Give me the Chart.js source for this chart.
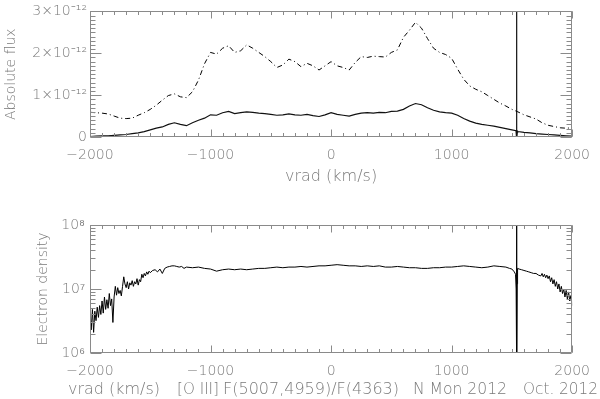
<!DOCTYPE html>
<html><head><meta charset="utf-8">
<script src="https://cdn.jsdelivr.net/npm/chart.js@4"></script>
<style>
html,body{margin:0;padding:0;background:#fff;overflow:hidden}
#wrap{position:relative;width:600px;height:399px;background:#fff}
canvas{position:absolute;left:0}
#c1{top:0;width:600px;height:200px}
#c2{top:200px;width:600px;height:199px}
</style></head>
<body><div id="wrap"><canvas id="c1" width="600" height="200"></canvas><canvas id="c2" width="600" height="199"></canvas></div>
<script>
// ---------- DATA ----------
const xTickValues = [-2000, -1000, 0, 1000, 2000];
const xTickLabels = ['\u22122000', '\u22121000', '0', '1000', '2000'];

// top panel: flux in units of 1e-12
const fluxTickValues = [0, 1, 2, 3];
const fluxTickLabels = ['0', '1\u00d710\u207b\u00b9\u00b2', '2\u00d710\u207b\u00b9\u00b2', '3\u00d710\u207b\u00b9\u00b2'];

const velTop = [-2000,-1950,-1900,-1850,-1800,-1750,-1700,-1650,-1600,-1550,-1500,-1450,-1400,-1350,-1300,-1250,-1200,-1150,-1100,-1050,
 -1000,-950,-900,-850,-800,-750,-700,-650,-600,-550,-500,-450,-400,-350,-300,-250,-200,-150,-100,-50,
 0,50,100,150,200,250,300,350,400,450,500,550,600,650,700,750,800,850,900,950,
 1000,1050,1100,1150,1200,1250,1300,1350,1400,1450,1500,1550,1600,1650,1700,1750,1800,1850,1900,1950,2000];
const fluxTotal = [0.59,0.58,0.57,0.55,0.50,0.45,0.44,0.45,0.52,0.58,0.66,0.76,0.88,0.99,1.03,0.96,0.94,1.08,1.36,1.75,
 2.02,1.98,2.12,2.18,2.02,2.06,2.20,2.12,2.02,1.92,1.80,1.66,1.72,1.86,1.80,1.68,1.76,1.70,1.60,1.70,
 1.80,1.70,1.66,1.60,1.78,1.92,1.90,1.93,1.92,1.91,2.02,2.08,2.38,2.55,2.74,2.60,2.35,2.12,2.02,1.97,
 1.88,1.62,1.38,1.22,1.14,1.08,0.99,0.90,0.81,0.74,0.66,0.60,0.53,0.48,0.43,0.34,0.28,0.25,0.22,0.21,0.22];

const velCore = [-2000,-1950,-1900,-1850,-1800,-1750,-1700,-1650,-1600,-1550,-1500,-1450,-1400,-1350,-1300,-1250,-1200,-1150,-1100,-1050,
 -1000,-950,-900,-850,-800,-750,-700,-650,-600,-550,-500,-450,-400,-350,-300,-250,-200,-150,-100,-50,
 0,50,100,150,200,250,300,350,400,450,500,550,600,650,700,750,800,850,900,950,
 1000,1050,1100,1150,1200,1250,1300,1350,1400,1450,1500,1534,1538,1541,1546,1550,1600,1650,1700,1750,1800,1850,1900,1950,2000];
const fluxCore = [0.01,0.02,0.03,0.03,0.04,0.05,0.06,0.08,0.10,0.13,0.17,0.21,0.24,0.30,0.34,0.30,0.27,0.34,0.40,0.45,
 0.53,0.52,0.58,0.61,0.56,0.58,0.60,0.59,0.57,0.56,0.54,0.52,0.53,0.55,0.53,0.52,0.54,0.51,0.49,0.53,
 0.58,0.54,0.52,0.50,0.54,0.57,0.58,0.57,0.59,0.58,0.61,0.62,0.66,0.74,0.80,0.77,0.70,0.64,0.60,0.58,
 0.57,0.52,0.44,0.38,0.33,0.30,0.28,0.26,0.23,0.20,0.17,0.15,3.5,-0.05,0.14,0.13,0.11,0.10,0.08,0.07,0.06,0.05,0.04,0.03,0.02];

// bottom panel: electron density
const densTickValues = [1e6, 1e7, 1e8];
const densTickLabels = ['10\u2076', '10\u2077', '10\u2078'];
const bottomTitleParts = ['vrad (km/s)', '[O III]', 'F(5007,4959)/F(4363)', 'N Mon 2012', 'Oct. 2012'];

const velDens = [-2000,-1990,-1980,-1970,-1960,-1950,-1940,-1930,-1920,-1910,-1900,-1890,-1880,-1870,-1860,-1850,-1840,-1830,-1820,-1810,
 -1800,-1790,-1780,-1770,-1760,-1750,-1740,-1730,-1720,-1710,-1700,-1690,-1680,-1670,-1660,-1650,-1640,-1630,-1620,-1610,
 -1600,-1590,-1580,-1570,-1560,-1550,-1540,-1530,-1520,-1510,-1500,
 -1480,-1460,-1440,-1420,-1400,-1380,-1360,-1340,-1320,-1300,-1280,-1260,-1240,-1220,-1200,
 -1150,-1100,-1050,-1000,-950,-900,-850,-800,-750,-700,-650,-600,-550,-500,-450,-400,-350,-300,-250,-200,-150,-100,-50,
 0,50,100,150,200,250,300,350,400,450,500,550,600,650,700,750,800,850,900,950,1000,1050,1100,1150,1200,1250,1300,1350,1400,1450,
 1480,1500,1520,1530,1535,1538,1541,1544,1547,1560,1580,1600,1620,1640,1660,1680,1700,1720,1740,
 1750,1760,1770,1780,1790,1800,1810,1820,1830,1840,1850,1860,1870,1880,1890,1900,1910,1920,1930,1940,1950,1960,1970,1980,1990,2000];
const density = [3.5e6,2.3e6,4.8e6,2.1e6,4.5e6,3.2e6,5.2e6,3.6e6,5.5e6,4.0e6,6.5e6,4.2e6,7.5e6,4.8e6,6.8e6,5.0e6,8.5e6,5.5e6,7.0e6,3.0e6,
 7.5e6,1.1e7,8.0e6,1.05e7,8.5e6,9.5e6,7.8e6,1.1e7,1.55e7,1.2e7,1.05e7,1.3e7,1.0e7,1.25e7,1.15e7,1.35e7,1.1e7,1.3e7,1.2e7,1.45e7,
 1.15e7,1.4e7,1.3e7,1.7e7,1.5e7,1.75e7,1.6e7,1.85e7,1.7e7,1.9e7,1.8e7,
 1.95e7,2.0e7,1.85e7,2.05e7,1.75e7,2.1e7,2.2e7,2.25e7,2.3e7,2.3e7,2.25e7,2.2e7,2.25e7,2.1e7,2.2e7,
 2.15e7,2.2e7,2.1e7,2.05e7,1.9e7,2.0e7,2.05e7,2.0e7,2.05e7,2.0e7,2.05e7,2.1e7,2.1e7,2.15e7,2.2e7,2.15e7,2.2e7,2.2e7,2.25e7,2.2e7,2.25e7,2.3e7,2.3e7,
 2.35e7,2.4e7,2.35e7,2.3e7,2.3e7,2.25e7,2.3e7,2.25e7,2.3e7,2.2e7,2.2e7,2.25e7,2.2e7,2.15e7,2.15e7,2.1e7,2.1e7,2.15e7,2.15e7,2.2e7,2.2e7,2.25e7,2.3e7,2.25e7,2.2e7,2.15e7,2.2e7,2.3e7,2.25e7,2.2e7,
 2.1e7,2.05e7,1.85e7,1.7e7,1.0e7,2e8,5e5,1.2e7,2.1e7,2.05e7,2.0e7,1.95e7,1.9e7,1.85e7,1.8e7,1.75e7,1.75e7,1.65e7,1.6e7,
 1.75e7,1.55e7,1.7e7,1.5e7,1.65e7,1.45e7,1.6e7,1.3e7,1.5e7,1.2e7,1.4e7,1.1e7,1.3e7,1.0e7,1.2e7,9.0e6,1.1e7,8.5e6,1.0e7,7.5e6,9.5e6,7.0e6,9.0e6,6.5e6,8.0e6,5.5e6];

// ---------- STYLE ----------
const TEXT = '#7a7a7a';
const AXIS = '#8a8a8a';
const FAM = "'DejaVu Sans', sans-serif";
const tickFont = {family: FAM, size: 14, weight: 200};
const titleFont = {family: FAM, size: 16, weight: 200};
// layout of the bottom title pieces: [left x, max width] in px
const bottomTitleLayout = [[68, 92], [177, 42], [223, 178], [413, 94], [523, 75]];

function pts(xs, ys){ return xs.map((v,i)=>({x:v, y:ys[i]})); }

function boxPlugin(cfg){
  return {
    id: 'idlBox',
    afterDraw(chart){
      const {ctx, chartArea:a, scales:{x, y}} = chart;
      ctx.save();
      ctx.strokeStyle = AXIS; ctx.lineWidth = 1;
      const L = Math.round(a.left)+0.5, R = Math.round(a.right)-0.5, T = Math.round(a.top)+0.5, B = Math.round(a.bottom)-0.5;
      ctx.beginPath();
      ctx.moveTo(L,T); ctx.lineTo(R,T); ctx.lineTo(R,B); ctx.lineTo(L,B); ctx.closePath();
      const xt = (v,len)=>{ const p = Math.round(x.getPixelForValue(v))+0.5; ctx.moveTo(p,B); ctx.lineTo(p,B-len); ctx.moveTo(p,T); ctx.lineTo(p,T+len); };
      const yt = (v,len)=>{ const p = Math.round(y.getPixelForValue(v))+0.5; ctx.moveTo(L,p); ctx.lineTo(L+len,p); ctx.moveTo(R,p); ctx.lineTo(R-len,p); };
      cfg.xMinor.forEach(v=>xt(v,3.5));
      xTickValues.forEach(v=>xt(v,7));
      cfg.yMinor.forEach(v=>yt(v,5));
      cfg.yMajor.forEach(v=>yt(v,11));
      ctx.stroke();
      if (cfg.titleParts) {
        ctx.fillStyle = TEXT;
        ctx.font = `${titleFont.weight} ${titleFont.size}px ${FAM}`;
        ctx.textAlign = 'left'; ctx.textBaseline = 'middle';
        cfg.titleParts.forEach((t,i)=>{
          const [lx, mw] = bottomTitleLayout[i];
          ctx.fillText(t, lx, chart.height - 9.5, mw);
        });
      }
      ctx.restore();
    }
  };
}

const xMinor = []; for (let v=-2000; v<=2000; v+=100) xMinor.push(v);
const yMinorTop = []; for (let k=0; k<=30; k++) yMinorTop.push(k/10);
const yMinorBot = []; for (const d of [1e6,1e7]) for (let k=2;k<=9;k++) yMinorBot.push(k*d);

function xScale(height, titleText, titlePad){
  return {
    type:'linear', min:-2000, max:2000,
    grid:{display:false, drawTicks:false}, border:{display:false},
    afterBuildTicks: s => { s.ticks = xTickValues.map(v=>({value:v})); },
    afterFit: s => { s.height = height; },
    ticks:{autoSkip:false, maxRotation:0, minRotation:0, padding:10, color:TEXT, font:tickFont,
      callback:(v,i)=>xTickLabels[i]},
    title:{display:!!titleText, text:titleText || '', color:TEXT, font:titleFont, padding:titlePad}
  };
}

// ---------- TOP CHART ----------
new Chart(document.getElementById('c1'), {
  type:'scatter',
  data:{datasets:[
    {data:pts(velTop, fluxTotal), showLine:true, borderColor:'#000', borderWidth:1, borderDash:[5,3,1,3], pointRadius:0, tension:0, clip:0},
    {data:pts(velCore, fluxCore), showLine:true, borderColor:'#111', borderWidth:1.2, pointRadius:0, tension:0, clip:0}
  ]},
  options:{
    responsive:false, animation:false, events:[],
    layout:{padding:{top:9, right:24, left:0, bottom:0}},
    plugins:{legend:{display:false}, tooltip:{enabled:false}},
    scales:{
      x: xScale(63, 'vrad (km/s)', {top:0, bottom:14}),
      y: {type:'linear', min:0, max:3,
        grid:{display:false, drawTicks:false}, border:{display:false},
        afterBuildTicks: s => { s.ticks = fluxTickValues.map(v=>({value:v})); },
        afterFit: s => { s.width = 90; },
        ticks:{padding:3, color:TEXT, font:tickFont, callback:(v,i)=>fluxTickLabels[i]},
        title:{display:true, text:'Absolute flux', color:TEXT, font:{family:FAM, size:14, weight:200}, padding:{top:3, bottom:0}}
      }
    }
  },
  plugins:[boxPlugin({xMinor, yMinor:yMinorTop, yMajor:fluxTickValues})]
});

// ---------- BOTTOM CHART ----------
new Chart(document.getElementById('c2'), {
  type:'scatter',
  data:{datasets:[
    {data:pts(velDens, density), showLine:true, borderColor:'#000', borderWidth:1, pointRadius:0, tension:0, clip:0}
  ]},
  options:{
    responsive:false, animation:false, events:[],
    layout:{padding:{top:25, right:24, left:0, bottom:0}},
    plugins:{legend:{display:false}, tooltip:{enabled:false}},
    scales:{
      x: xScale(46, null, null),
      y: {type:'logarithmic', min:1e6, max:1e8,
        grid:{display:false, drawTicks:false}, border:{display:false},
        afterBuildTicks: s => { s.ticks = densTickValues.map(v=>({value:v})); },
        afterFit: s => { s.width = 90; },
        ticks:{padding:5, color:TEXT, font:tickFont, callback:(v,i)=>densTickLabels[i]},
        title:{display:true, text:'Electron density', color:TEXT, font:{family:FAM, size:14, weight:200}, padding:{top:35, bottom:0}}
      }
    }
  },
  plugins:[boxPlugin({xMinor, yMinor:yMinorBot, yMajor:densTickValues, titleParts:bottomTitleParts})]
});
</script>
</body></html>
